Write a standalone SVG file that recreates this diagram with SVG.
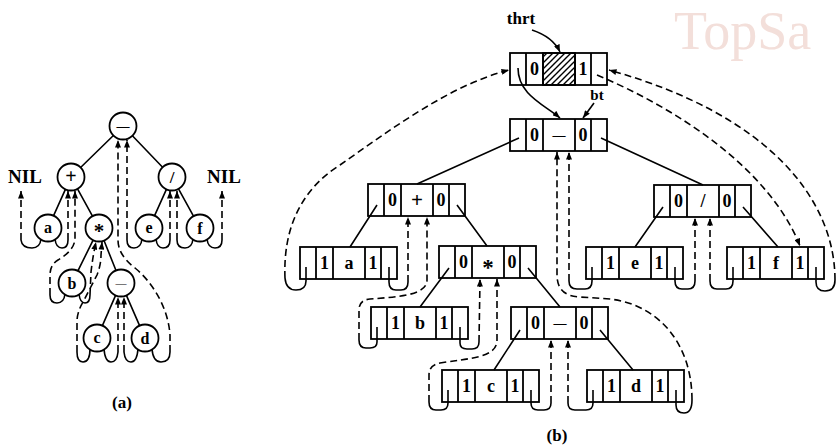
<svg xmlns="http://www.w3.org/2000/svg" xmlns:xlink="http://www.w3.org/1999/xlink" width="838" height="445" viewBox="0 0 838 445">
<defs>
<style>
.box{fill:#fff;stroke:#000;stroke-width:1.8}
.cl{fill:none;stroke:#000;stroke-width:1.8}
.circ{fill:#fff;stroke:#000;stroke-width:1.8}
.ln{fill:none;stroke:#000;stroke-width:1.6}
.dash{fill:none;stroke:#000;stroke-width:1.6;stroke-dasharray:7 4}
.t{font-family:"Liberation Serif",serif;font-size:18px;font-weight:bold;text-anchor:middle;fill:#000}
.s{font-family:"Liberation Serif",serif;font-size:16px;font-weight:bold;text-anchor:middle;fill:#000}
.lab{font-family:"Liberation Serif",serif;font-weight:bold;text-anchor:middle;fill:#000}
</style>
<marker id="arr" viewBox="0 0 10 8" refX="10" refY="4" markerWidth="8" markerHeight="6" markerUnits="userSpaceOnUse" orient="auto"><path d="M0,0 L10,4 L0,8 z" fill="#000"/></marker>
<pattern id="hatch" width="6" height="6" patternUnits="userSpaceOnUse"><path d="M-1,1 L1,-1 M0,6 L6,0 M5,7 L7,5" stroke="#000" stroke-width="1.4"/></pattern>
<g id="cells"><rect class="box" x="0" y="0" width="97" height="32"/><path class="cl" d="M16,0V32M33,0V32M65,0V32M81,0V32"/></g>
</defs>

<text x="674" y="49" font-family="Liberation Serif,serif" font-size="54" fill="#f3dfda">TopSa</text>

<!-- ===== (a) ===== -->
<g id="a-root"><circle class="circ" cx="123" cy="126" r="13.5"/><text class="s" x="123" y="130" style="font-size:13px">—</text></g>
<g id="a-plus"><circle class="circ" cx="71" cy="177" r="13.5"/><text class="s" x="71" y="183" style="font-size:20px">+</text></g>
<g id="a-div"><circle class="circ" cx="172" cy="177" r="13.5"/><text class="s" x="172" y="183" style="font-size:17px">/</text></g>
<g id="a-a"><circle class="circ" cx="48" cy="228" r="13.5"/><text class="s" x="48" y="233">a</text></g>
<g id="a-star"><circle class="circ" cx="99" cy="228" r="13.5"/><text class="s" x="99" y="238" style="font-size:21px">*</text></g>
<g id="a-e"><circle class="circ" cx="149" cy="228" r="13.5"/><text class="s" x="149" y="233">e</text></g>
<g id="a-f"><circle class="circ" cx="200" cy="228" r="13.5"/><text class="s" x="200" y="234">f</text></g>
<g id="a-b"><circle class="circ" cx="72" cy="283" r="13.5"/><text class="s" x="72" y="289">b</text></g>
<g id="a-minus"><circle class="circ" cx="121" cy="283" r="13.5"/><text class="s" x="121" y="287" style="font-size:11px">—</text></g>
<g id="a-c"><circle class="circ" cx="97" cy="338" r="13.5"/><text class="s" x="97" y="343">c</text></g>
<g id="a-d"><circle class="circ" cx="145" cy="338" r="13.5"/><text class="s" x="145" y="344">d</text></g>
<g id="a-nil-l"><text class="lab" x="25" y="183" font-size="19">NIL</text></g>
<g id="a-nil-r"><text class="lab" x="224" y="183" font-size="19">NIL</text></g>
<text class="lab" x="122" y="408" font-size="17">(a)</text>

<!-- ===== (b) ===== -->
<g id="b-head"><use xlink:href="#cells" x="510" y="53"/><rect x="543" y="53" width="32" height="32" fill="url(#hatch)" stroke="#000" stroke-width="1.8"/><text class="t" x="534.5" y="75">0</text><text class="t" x="583" y="75">1</text></g>
<g id="b-thrt"><text class="lab" x="521" y="24" font-size="17">thrt</text></g>
<g id="b-bt"><text class="lab" x="597" y="100" font-size="15">bt</text></g>
<g id="b-root"><use xlink:href="#cells" x="510" y="119"/><text class="t" x="534.5" y="141">0</text><text class="t" x="559" y="139" style="font-size:13px">—</text><text class="t" x="583" y="141">0</text></g>
<g id="b-plus"><use xlink:href="#cells" x="368" y="184"/><text class="t" x="392.5" y="206">0</text><text class="t" x="417" y="207" style="font-size:21px">+</text><text class="t" x="441" y="206">0</text></g>
<g id="b-div"><use xlink:href="#cells" x="654" y="185"/><text class="t" x="678.5" y="207">0</text><text class="t" x="703" y="207">/</text><text class="t" x="727" y="207">0</text></g>
<g id="b-a"><use xlink:href="#cells" x="300" y="247"/><text class="t" x="324.5" y="269">1</text><text class="t" x="349" y="269">a</text><text class="t" x="373" y="269">1</text></g>
<g id="b-star"><use xlink:href="#cells" x="439" y="246"/><text class="t" x="463.5" y="268">0</text><text class="t" x="488" y="275" style="font-size:23px">*</text><text class="t" x="512" y="268">0</text></g>
<g id="b-e"><use xlink:href="#cells" x="586" y="247"/><text class="t" x="610.5" y="269">1</text><text class="t" x="635" y="269">e</text><text class="t" x="659" y="269">1</text></g>
<g id="b-f"><use xlink:href="#cells" x="727" y="247"/><text class="t" x="751.5" y="269">1</text><text class="t" x="776" y="269">f</text><text class="t" x="800" y="269">1</text></g>
<g id="b-b"><use xlink:href="#cells" x="371" y="307"/><text class="t" x="395.5" y="329">1</text><text class="t" x="420" y="329">b</text><text class="t" x="444" y="329">1</text></g>
<g id="b-minus"><use xlink:href="#cells" x="511" y="307"/><text class="t" x="535.5" y="329">0</text><text class="t" x="560" y="327" style="font-size:13px">—</text><text class="t" x="584" y="329">0</text></g>
<g id="b-c"><use xlink:href="#cells" x="442" y="370"/><text class="t" x="466.5" y="392">1</text><text class="t" x="491" y="392">c</text><text class="t" x="515" y="392">1</text></g>
<g id="b-d"><use xlink:href="#cells" x="587" y="370"/><text class="t" x="611.5" y="392">1</text><text class="t" x="636" y="392">d</text><text class="t" x="660" y="392">1</text></g>
<text class="lab" x="557" y="441" font-size="17">(b)</text>

<g id="connectors">
<!-- (a) tree edges -->
<path class="ln" d="M113.4,135.5L80.6,167.5M132.4,135.7L162.6,167.3M65.4,189.3L53.6,215.7M77.5,188.8L92.5,216.2M166.4,189.3L154.6,215.7M178.5,188.8L193.5,216.2M93.1,240.1L77.9,270.9M104,240.5L116,270.5M115.6,295.4L102.4,325.6M126.4,295.4L139.6,325.6"/>
<!-- (a) thread hooks -->
<path class="ln" d="M41,239Q40,248 32,248Q22,248 21,240 M55,239Q56,248 62,248Q68,248 68,240 M65,294Q64,303 57,303Q50,303 50,295 M79,294Q80,303 85,303Q90,303 90,295 M90,349Q90,362 83,362Q77,362 77,352 M104,349Q105,362 111,362Q117,362 118,352 M138,349Q137,362 131,362Q125,362 124,352 M152,349Q153,362 161,362Q170,362 170,352 M142,239Q141,248 134,248Q127,248 127,240 M156,239Q157,248 163,248Q170,248 170,240 M193,239Q192,248 185,248Q177,248 177,240 M207,239Q208,248 215,248Q222,248 222,240"/>
<!-- (a) threads -->
<path class="dash" marker-end="url(#arr)" d="M21,240L21,191"/>
<path class="dash" marker-end="url(#arr)" d="M68,240L68,191"/>
<path class="dash" marker-end="url(#arr)" d="M50,295L50,275Q50,265 58,260Q75,250 75,238L75,191"/>
<path class="dash" marker-end="url(#arr)" d="M90,295L91,272Q93,255 96,242"/>
<path class="dash" marker-end="url(#arr)" d="M77,352L77,322Q77,312 83,302L97,275Q101,265 101,255L102,242"/>
<path class="dash" marker-end="url(#arr)" d="M118,352L118,297"/>
<path class="dash" marker-end="url(#arr)" d="M124,352L124,297"/>
<path class="dash" marker-end="url(#arr)" d="M170,352L170,335C168,305 150,280 135,268Q118,255 118,240L118,140"/>
<path class="dash" marker-end="url(#arr)" d="M127,240L127,140"/>
<path class="dash" marker-end="url(#arr)" d="M170,240L170,191"/>
<path class="dash" marker-end="url(#arr)" d="M177,240L177,191"/>
<path class="dash" marker-end="url(#arr)" d="M222,240L222,191"/>

<!-- (b) labels -->
<path class="ln" marker-end="url(#arr)" d="M532,30Q553,37 560,52"/>
<path class="ln" marker-end="url(#arr)" d="M594,103L583,118"/>
<!-- (b) tree edges -->
<path class="ln" marker-end="url(#arr)" d="M518,68C518,95 545,105 560,118"/>
<path class="ln" d="M519,138L417,184M601,138L703,185M377,205L350,247M457,205L487,246M663,207L635,247M743,207L778,247M449,268L420,307M528,268L560,307M520,330L494,370M600,330L633,370"/>
<!-- (b) thread hooks -->
<path class="ln" d="M306,267L306,281Q306,290 296,290Q286,290 285,278 M389,267L389,282Q389,290 396,290L401,290Q408,290 408,282 M377,327L377,342Q377,348 370,348L366,348Q359,348 359,340 M460,327L460,343Q460,349 467,349L472,349Q479,349 479,342 M448,390L448,403Q448,410 441,410L436,410Q429,410 429,402 M531,390L531,403Q531,410 538,410L544,410Q551,410 551,403 M593,390L593,403Q593,410 586,410L575,410Q568,410 568,403 M676,390L676,405Q676,413 684,413Q692,413 692,400 M592,267L592,281Q592,289 585,289L577,289Q569,289 569,281 M675,267L675,281Q675,289 682,289L688,289Q695,289 695,281 M733,267L733,281Q733,289 726,289L717,289Q710,289 710,281 M816,267L816,282Q816,291 825,291Q835,291 835,280"/>
<!-- (b) threads -->
<path class="dash" marker-end="url(#arr)" d="M285,278C283,230 300,190 340,165C390,130 450,85 509,70"/>
<path class="dash" marker-end="url(#arr)" d="M408,282L408,217"/>
<path class="dash" marker-end="url(#arr)" d="M359,340L359,310Q359,300 370,299C395,297 427,296 427,280L427,217"/>
<path class="dash" marker-end="url(#arr)" d="M479,342L480,279"/>
<path class="dash" marker-end="url(#arr)" d="M429,402L429,375Q429,365 440,363C470,358 497,358 497,340L497,279"/>
<path class="dash" marker-end="url(#arr)" d="M551,403L551,340"/>
<path class="dash" marker-end="url(#arr)" d="M568,403L568,340"/>
<path class="dash" marker-end="url(#arr)" d="M692,400C692,345 660,305 610,299L580,297Q557,296 557,275L557,152"/>
<path class="dash" marker-end="url(#arr)" d="M569,281L569,152"/>
<path class="dash" marker-end="url(#arr)" d="M695,281L695,218"/>
<path class="dash" marker-end="url(#arr)" d="M710,281L710,218"/>
<path class="dash" marker-end="url(#arr)" d="M835,280C835,200 770,115 609,70"/>
<path class="dash" marker-end="url(#arr)" d="M597,75C680,110 770,170 800,246"/>
</g>
</svg>
